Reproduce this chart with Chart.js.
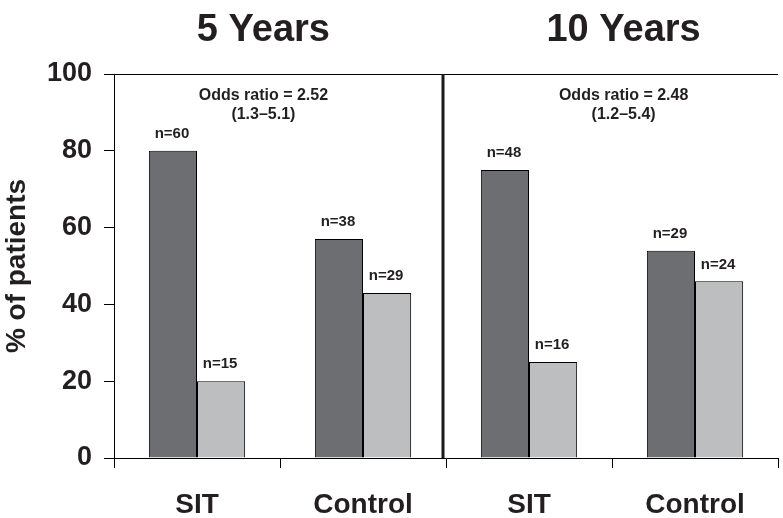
<!DOCTYPE html>
<html>
<head>
<meta charset="utf-8">
<script src="https://cdn.jsdelivr.net/npm/chart.js@4"></script>
<style>
  html, body { margin: 0; padding: 0; background: #fff; }
  #wrap { width: 783px; height: 518px; }
</style>
</head>
<body>
<div id="wrap"><canvas id="grafico" width="783" height="518"></canvas></div>
<script>
// Datos
const categorias = ['SIT', 'Control', 'SIT', 'Control'];
const valoresOscuros = [80, 57, 75, 54];
const valoresClaros = [20, 43, 25, 46];
const etiquetasOscuras = ['n=60', 'n=38', 'n=48', 'n=29'];
const etiquetasClaras = ['n=15', 'n=29', 'n=16', 'n=24'];
const titulosPeriodo = ['5 Years', '10 Years'];
const oddsRatio = ['Odds ratio = 2.52', 'Odds ratio = 2.48'];
const intervalos = ['(1.3\u20135.1)', '(1.2\u20135.4)'];
const ticksY = [0, 20, 40, 60, 80, 100];

const fuente = "'Liberation Sans', Arial, sans-serif";

// Textos, línea superior y divisor
const extras = {
    id: 'extras',
    afterDatasetsDraw(chart) {
        const ctx = chart.ctx;
        const area = chart.chartArea;
        const xs = chart.scales.x;
        const ys = chart.scales.y;

        ctx.save();
        // línea superior
        ctx.strokeStyle = '#000';
        ctx.lineWidth = 1;
        ctx.beginPath();
        ctx.moveTo(area.left, Math.round(ys.getPixelForValue(100)) + 0.5);
        ctx.lineTo(area.right, Math.round(ys.getPixelForValue(100)) + 0.5);
        ctx.stroke();

        // divisor grueso entre 5 y 10 años
        const xDiv = xs.getPixelForValue(1.5) - 3;
        ctx.strokeStyle = '#1a1a1a';
        ctx.lineWidth = 3;
        ctx.beginPath();
        ctx.moveTo(xDiv, area.top);
        ctx.lineTo(xDiv, area.bottom);
        ctx.stroke();

        ctx.fillStyle = '#231f20';
        ctx.textAlign = 'center';
        ctx.textBaseline = 'middle';

        // etiquetas n=
        ctx.font = 'bold 15px ' + fuente;
        [etiquetasOscuras, etiquetasClaras].forEach((etqs, d) => {
            chart.getDatasetMeta(d).data.forEach((bar, i) => {
                ctx.fillText(etqs[i], bar.x - 1, bar.y - 17);
            });
        });

        // títulos y odds ratio
        const centros = [xs.getPixelForValue(0.4), xs.getPixelForValue(2.57)];
        centros.forEach((cx, i) => {
            ctx.font = 'bold 38px ' + fuente;
            ctx.fillText(titulosPeriodo[i], cx, area.top - 43);
            ctx.font = 'bold 16px ' + fuente;
            ctx.fillText(oddsRatio[i], cx, area.top + 22);
            ctx.fillText(intervalos[i], cx, area.top + 41);
        });
        ctx.restore();
    }
};

new Chart(document.getElementById('grafico').getContext('2d'), {
    type: 'bar',
    data: {
        labels: categorias,
        datasets: [
            { data: valoresOscuros, backgroundColor: '#6d6e71', borderColor: '#000', borderWidth: 1 },
            { data: valoresClaros, backgroundColor: '#bcbec0', borderColor: '#000', borderWidth: 1 }
        ]
    },
    options: {
        responsive: false,
        animation: false,
        datasets: { bar: { barPercentage: 1, categoryPercentage: 0.58 } },
        layout: { padding: { top: 74, right: 5, left: 0, bottom: 0 } },
        plugins: { legend: { display: false }, tooltip: { enabled: false }, title: { display: false } },
        scales: {
            x: {
                grid: { display: true, drawOnChartArea: false, drawTicks: true, tickLength: 10, color: '#000', offset: true },
                border: { display: true, color: '#000', width: 1 },
                ticks: { color: '#231f20', font: { family: fuente, size: 28, weight: 'bold' }, padding: 20, maxRotation: 0 },
                afterFit(scale) { scale.height = 60; }
            },
            y: {
                min: 0,
                max: 100,
                afterBuildTicks(scale) { scale.ticks = ticksY.map(v => ({ value: v })); },
                grid: { display: true, drawOnChartArea: false, drawTicks: true, tickLength: 10, color: '#000' },
                border: { display: true, color: '#000', width: 1 },
                ticks: { color: '#231f20', font: { family: fuente, size: 27, weight: 'bold' }, padding: 12 },
                title: {
                    display: true,
                    text: '% of patients',
                    color: '#231f20',
                    font: { family: fuente, size: 28, weight: 'bold' },
                    padding: 0
                },
                afterFit(scale) { scale.width = 114; }
            }
        }
    },
    plugins: [extras]
});
</script>
</body>
</html>
